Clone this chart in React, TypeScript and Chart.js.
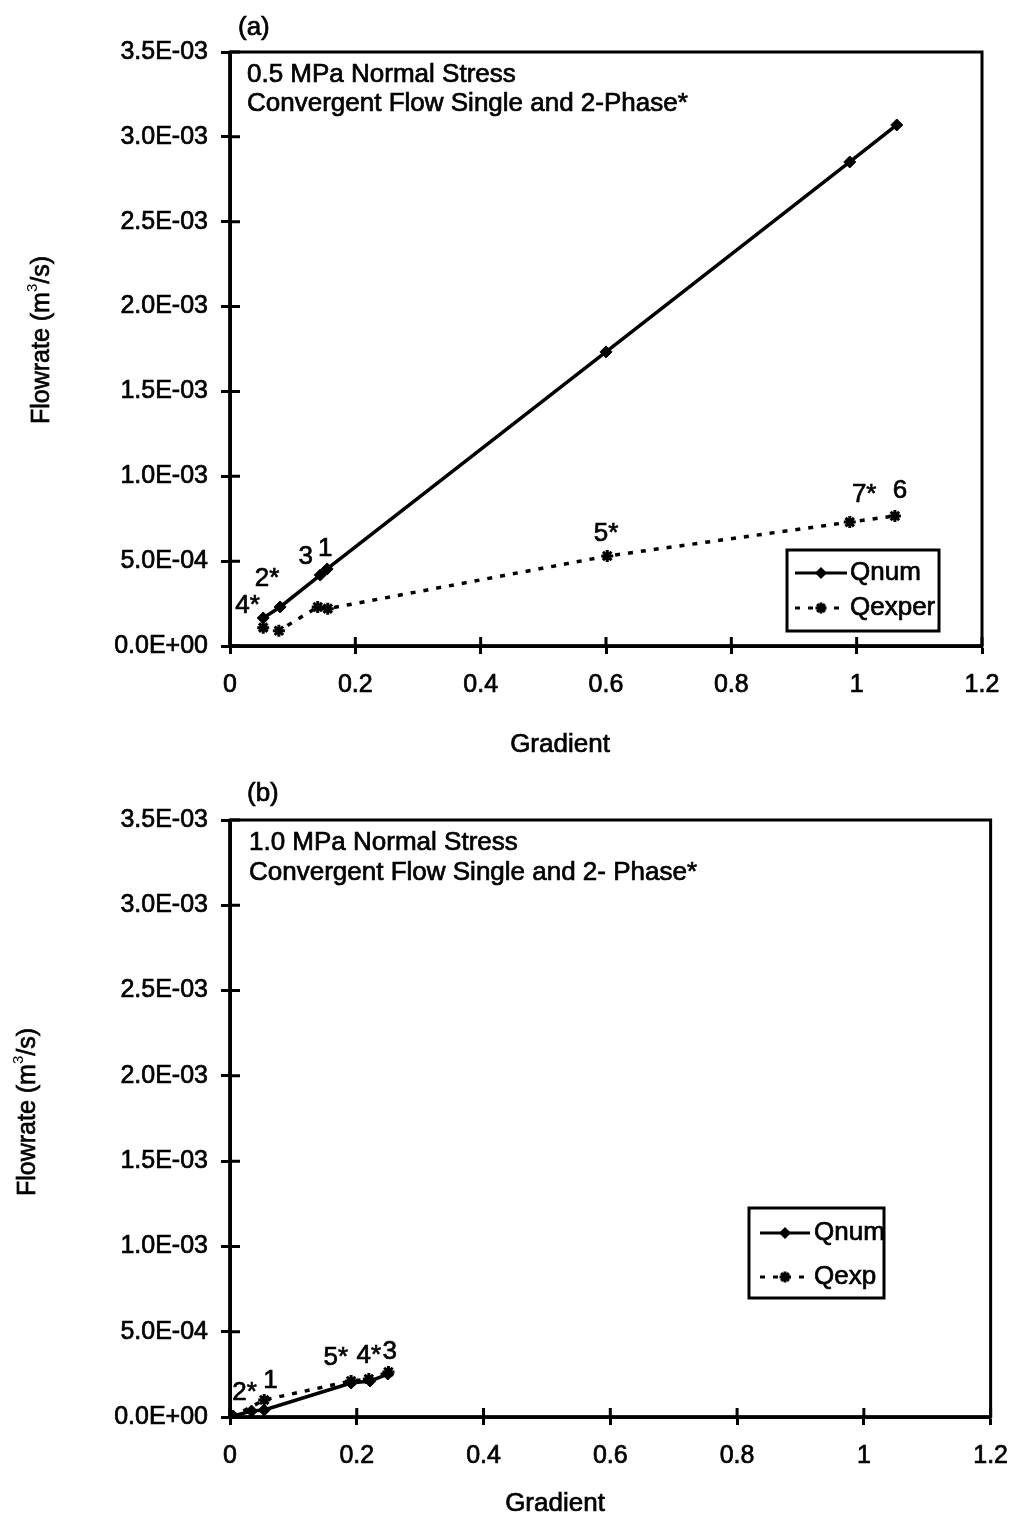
import React, { useEffect, useRef } from 'react';
import { Chart, registerables } from 'chart.js';

Chart.register(...registerables);

const FONT = '"Liberation Sans", Arial, sans-serif';
const STROKE = 0.7;

// ---------- Panel (a): 0.5 MPa ----------
const aQnumX = [0.053, 0.080, 0.144, 0.155, 0.600, 0.989, 1.064];
const aQnumY = [1.65e-4, 2.3e-4, 4.18e-4, 4.54e-4, 1.733e-3, 2.852e-3, 3.07e-3];
const aQexpX = [0.053, 0.078, 0.140, 0.156, 0.602, 0.989, 1.061];
const aQexpY = [1.08e-4, 0.9e-4, 2.3e-4, 2.2e-4, 5.3e-4, 7.3e-4, 7.66e-4];
const aPointLabels = ['4*', '2*', '3', '1', '5*', '7*', '6'];
const aLabelX = [0.028, 0.059, 0.121, 0.152, 0.600, 1.012, 1.069];
const aLabelY = [2.36e-4, 3.95e-4, 5.24e-4, 5.72e-4, 6.6e-4, 8.9e-4, 9.13e-4];

// ---------- Panel (b): 1.0 MPa ----------
const bQnumX = [0.005, 0.034, 0.054, 0.191, 0.221, 0.249];
const bQnumY = [0.6e-5, 3.5e-5, 4.1e-5, 1.99e-4, 2.11e-4, 2.52e-4];
const bQexpX = [0.003, 0.054, 0.191, 0.219, 0.25];
const bQexpY = [0, 1.0e-4, 2.11e-4, 2.23e-4, 2.64e-4];
const bPointLabels = ['2*', '1', '5*', '4*', '3'];
const bLabelX = [0.023, 0.064, 0.167, 0.219, 0.252];
const bLabelY = [1.42e-4, 2.12e-4, 3.47e-4, 3.58e-4, 3.82e-4];

// ---------- Axes ----------
const xTickValues = [0, 0.2, 0.4, 0.6, 0.8, 1, 1.2];
const xTickLabels = ['0', '0.2', '0.4', '0.6', '0.8', '1', '1.2'];
const yTickValues = [0, 0.0005, 0.001, 0.0015, 0.002, 0.0025, 0.003, 0.0035];
const yTickLabels = ['0.0E+00', '5.0E-04', '1.0E-03', '1.5E-03', '2.0E-03', '2.5E-03', '3.0E-03', '3.5E-03'];

type Spec = {
  W: number; H: number; top: number;
  plotLeft: number; plotRight: number; plotTop: number; plotBottom: number;
  qnumX: number[]; qnumY: number[]; qexpX: number[]; qexpY: number[];
  qexpName: string;
  labels: string[]; labelX: number[]; labelY: number[];
  panel: string; panelPos: [number, number];
  titleLines: string[]; titleX: number; titleY: number[];
  legendBox: [number, number, number, number];
  legendRows: [number, number];
  legendLine: [number, number];
  legendText: number;
  yTitlePos: [number, number];
  xTitlePos: [number, number];
};

const specA: Spec = {
  W: 1024, H: 760, top: 0,
  plotLeft: 230, plotRight: 982, plotTop: 52, plotBottom: 646,
  qnumX: aQnumX, qnumY: aQnumY, qexpX: aQexpX, qexpY: aQexpY,
  qexpName: 'Qexper',
  labels: aPointLabels, labelX: aLabelX, labelY: aLabelY,
  panel: '(a)', panelPos: [238, 28],
  titleLines: ['0.5 MPa Normal Stress', 'Convergent Flow Single and 2-Phase*'],
  titleX: 247, titleY: [75, 104],
  legendBox: [787, 550, 152, 81],
  legendRows: [573, 608],
  legendLine: [795, 847],
  legendText: 850,
  yTitlePos: [42, 340],
  xTitlePos: [560, 745],
};

const specB: Spec = {
  W: 1024, H: 757, top: 760,
  plotLeft: 230, plotRight: 1000, plotTop: 60, plotBottom: 657,
  qnumX: bQnumX, qnumY: bQnumY, qexpX: bQexpX, qexpY: bQexpY,
  qexpName: 'Qexp',
  labels: bPointLabels, labelX: bLabelX, labelY: bLabelY,
  panel: '(b)', panelPos: [247, 34],
  titleLines: ['1.0 MPa Normal Stress', 'Convergent Flow Single and 2- Phase*'],
  titleX: 249, titleY: [83, 113],
  legendBox: [749, 448, 135, 90],
  legendRows: [473, 517],
  legendLine: [760, 810],
  legendText: 814,
  yTitlePos: [28, 352],
  xTitlePos: [555, 744],
};

function drawDiamond(ctx: CanvasRenderingContext2D, x: number, y: number, r: number) {
  ctx.beginPath();
  ctx.moveTo(x, y - r);
  ctx.lineTo(x + r, y);
  ctx.lineTo(x, y + r);
  ctx.lineTo(x - r, y);
  ctx.closePath();
  ctx.fill();
}

function drawStar(ctx: CanvasRenderingContext2D, x: number, y: number, r: number) {
  ctx.beginPath();
  ctx.moveTo(x - r, y); ctx.lineTo(x + r, y);
  ctx.moveTo(x, y - r); ctx.lineTo(x, y + r);
  const d = r * 0.707;
  ctx.moveTo(x - d, y - d); ctx.lineTo(x + d, y + d);
  ctx.moveTo(x - d, y + d); ctx.lineTo(x + d, y - d);
  ctx.stroke();
}

function txt(ctx: CanvasRenderingContext2D, t: string, x: number, y: number) {
  ctx.fillText(t, x, y);
  ctx.strokeText(t, x, y);
}

function makeDecor(spec: Spec) {
  return {
    id: 'decor',
    afterDraw(chart: any) {
      const ctx: CanvasRenderingContext2D = chart.ctx;
      const { left, right, top, bottom } = chart.chartArea;
      const xs = chart.scales.x;
      const ys = chart.scales.y;
      ctx.save();
      ctx.strokeStyle = '#000';
      ctx.fillStyle = '#000';
      // frame
      ctx.lineWidth = 3;
      ctx.strokeRect(left, top, right - left, bottom - top);
      ctx.lineWidth = 3.5;
      ctx.beginPath();
      ctx.moveTo(left, top);
      ctx.lineTo(left, bottom);
      ctx.lineTo(right, bottom);
      ctx.stroke();
      // inner tick parts
      ctx.lineWidth = 3;
      ctx.beginPath();
      xTickValues.forEach((v) => {
        const px = xs.getPixelForValue(v);
        ctx.moveTo(px, bottom);
        ctx.lineTo(px, bottom - 9);
      });
      yTickValues.forEach((v) => {
        const py = ys.getPixelForValue(v);
        ctx.moveTo(left, py);
        ctx.lineTo(left + 10, py);
      });
      ctx.stroke();

      ctx.lineWidth = STROKE;
      // point labels
      ctx.font = `26px ${FONT}`;
      ctx.textAlign = 'center';
      ctx.textBaseline = 'middle';
      spec.labels.forEach((t, i) => {
        txt(ctx, t, xs.getPixelForValue(spec.labelX[i]), ys.getPixelForValue(spec.labelY[i]));
      });

      // panel letter and title lines
      ctx.textAlign = 'left';
      txt(ctx, spec.panel, spec.panelPos[0], spec.panelPos[1]);
      spec.titleLines.forEach((t, i) => txt(ctx, t, spec.titleX, spec.titleY[i]));

      // x title
      ctx.textAlign = 'center';
      txt(ctx, 'Gradient', spec.xTitlePos[0], spec.xTitlePos[1]);

      // y title with superscript
      ctx.save();
      ctx.translate(spec.yTitlePos[0], spec.yTitlePos[1]);
      ctx.rotate(-Math.PI / 2);
      ctx.textAlign = 'left';
      const mainFont = `25px ${FONT}`;
      const supFont = `15px ${FONT}`;
      ctx.font = mainFont;
      const p1 = 'Flowrate (m';
      const p3 = '/s)';
      const w1 = ctx.measureText(p1).width;
      const w3 = ctx.measureText(p3).width;
      ctx.font = supFont;
      const w2 = ctx.measureText('3').width;
      const total = w1 + w2 + w3;
      let cx = -total / 2;
      ctx.font = mainFont;
      txt(ctx, p1, cx, 0);
      cx += w1;
      ctx.font = supFont;
      ctx.fillText('3', cx, -9);
      cx += w2;
      ctx.font = mainFont;
      txt(ctx, p3, cx, 0);
      ctx.restore();

      // legend
      const [lx, ly, lw, lh] = spec.legendBox;
      ctx.fillStyle = '#fff';
      ctx.fillRect(lx, ly, lw, lh);
      ctx.fillStyle = '#000';
      ctx.lineWidth = 3;
      ctx.strokeRect(lx, ly, lw, lh);
      const [l0, l1] = spec.legendLine;
      const mid = (l0 + l1) / 2;
      // Qnum row
      ctx.beginPath();
      ctx.moveTo(l0, spec.legendRows[0]);
      ctx.lineTo(l1, spec.legendRows[0]);
      ctx.stroke();
      drawDiamond(ctx, mid, spec.legendRows[0], 6);
      // Qexp row
      ctx.setLineDash([5, 8]);
      ctx.beginPath();
      ctx.moveTo(l0, spec.legendRows[1]);
      ctx.lineTo(l1, spec.legendRows[1]);
      ctx.stroke();
      ctx.setLineDash([]);
      ctx.lineWidth = 3;
      drawStar(ctx, mid, spec.legendRows[1], 5.5);
      ctx.lineWidth = STROKE;
      ctx.font = `26px ${FONT}`;
      ctx.textAlign = 'left';
      txt(ctx, 'Qnum', spec.legendText, spec.legendRows[0]);
      txt(ctx, spec.qexpName, spec.legendText, spec.legendRows[1]);
      ctx.restore();
    },
  };
}

function makeConfig(spec: Spec): any {
  const qnum = spec.qnumX.map((x, i) => ({ x, y: spec.qnumY[i] }));
  const qexp = spec.qexpX.map((x, i) => ({ x, y: spec.qexpY[i] }));
  const tickFont = { family: FONT, size: 25 };
  return {
    type: 'line',
    data: {
      datasets: [
        {
          label: 'Qnum',
          data: qnum,
          borderColor: '#000',
          backgroundColor: '#000',
          borderWidth: 3.5,
          pointStyle: 'rectRot',
          pointRadius: 6,
          pointBorderWidth: 1,
          tension: 0,
        },
        {
          label: spec.qexpName,
          data: qexp,
          borderColor: '#000',
          backgroundColor: '#000',
          borderWidth: 3.5,
          borderDash: [5, 8],
          pointStyle: 'star',
          pointRadius: 6,
          pointBorderWidth: 3,
          tension: 0,
        },
      ],
    },
    options: {
      animation: false,
      responsive: false,
      events: [],
      layout: { padding: { left: 0, top: spec.plotTop, right: spec.W - spec.plotRight, bottom: 0 } },
      plugins: { legend: { display: false }, tooltip: { enabled: false }, title: { display: false } },
      scales: {
        x: {
          type: 'linear',
          min: 0,
          max: 1.2,
          afterBuildTicks: (s: any) => { s.ticks = xTickValues.map((v) => ({ value: v })); },
          afterFit: (s: any) => { s.height = spec.H - spec.plotBottom; },
          ticks: {
            callback: (_v: any, i: number) => xTickLabels[i],
            font: tickFont,
            color: '#000',
            textStrokeColor: '#000',
            textStrokeWidth: STROKE,
            padding: 16,
            maxRotation: 0,
            autoSkip: false,
          },
          grid: { display: true, drawOnChartArea: false, drawTicks: true, tickLength: 8, tickWidth: 3, tickColor: '#000', color: '#000' },
          border: { display: true, color: '#000', width: 3 },
        },
        y: {
          type: 'linear',
          min: 0,
          max: 0.0035,
          afterBuildTicks: (s: any) => { s.ticks = yTickValues.map((v) => ({ value: v })); },
          afterFit: (s: any) => { s.width = spec.plotLeft; },
          ticks: {
            callback: (_v: any, i: number) => yTickLabels[i],
            font: tickFont,
            color: '#000',
            textStrokeColor: '#000',
            textStrokeWidth: STROKE,
            padding: 13,
            autoSkip: false,
          },
          grid: { display: true, drawOnChartArea: false, drawTicks: true, tickLength: 9, tickWidth: 3, tickColor: '#000', color: '#000' },
          border: { display: true, color: '#000', width: 3 },
        },
      },
    },
    plugins: [makeDecor(spec)],
  };
}

function Panel({ spec }: { spec: Spec }) {
  const ref = useRef<HTMLCanvasElement | null>(null);
  useEffect(() => {
    if (!ref.current) return;
    const chart = new Chart(ref.current, makeConfig(spec));
    return () => chart.destroy();
  }, [spec]);
  return (
    <canvas
      ref={ref}
      width={spec.W}
      height={spec.H}
      style={{ position: 'absolute', left: 0, top: spec.top, width: spec.W, height: spec.H }}
    />
  );
}

export default function App() {
  return (
    <div style={{ position: 'absolute', left: 0, top: 0, width: 1024, height: 1517, background: '#fff' }}>
      <Panel spec={specA} />
      <Panel spec={specB} />
    </div>
  );
}
